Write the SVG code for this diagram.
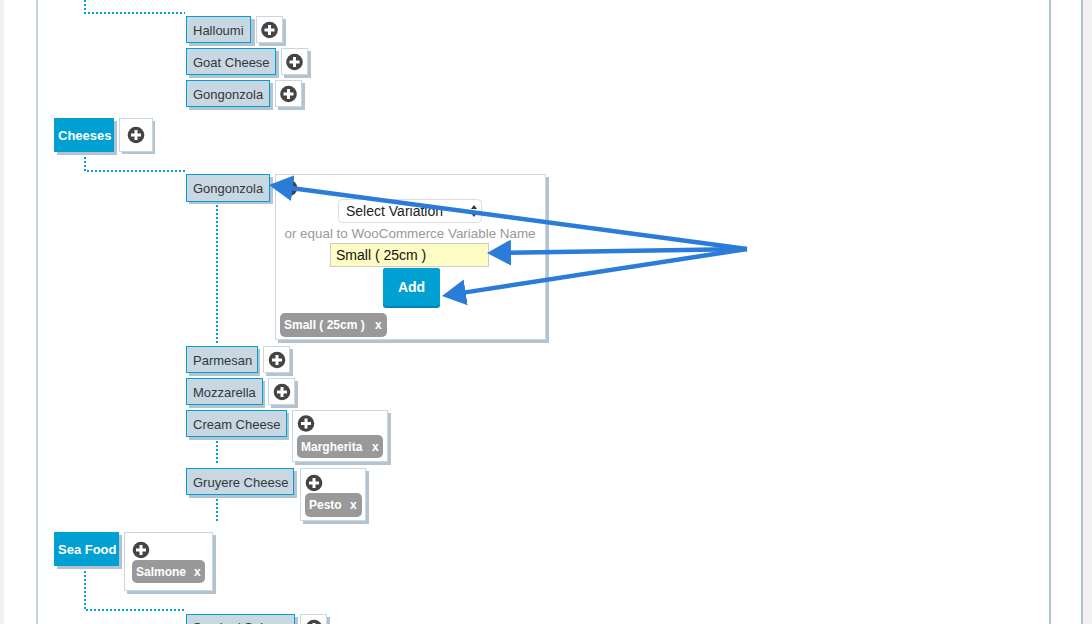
<svg xmlns="http://www.w3.org/2000/svg" width="1092" height="624" viewBox="0 0 1092 624">
<defs>
<style>
.sh{fill:#b3c3d0}
.nb{fill:#c8d7e1;stroke:#00a0d2;stroke-width:1}
.bb{fill:#00a0d2}
.btn{fill:#fff;stroke:#c8d7e1;stroke-width:1}
.nt{font-family:"Liberation Sans",Arial,sans-serif;font-size:13px;fill:#32373c}
.bt{font-family:"Liberation Sans",Arial,sans-serif;font-size:13px;font-weight:bold;fill:#fff}
.tag{fill:#999}
.tt{font-family:"Liberation Sans",Arial,sans-serif;font-size:12px;font-weight:bold;fill:#fff}
.dot{fill:none;stroke:#00a0d2;stroke-width:2;stroke-dasharray:2 2}
.arr{fill:none;stroke:#2b7bd8;stroke-width:4.5}
</style>
<g id="plus">
<circle cx="0" cy="0" r="8.3" fill="#444"/>
<rect x="-5" y="-1.5" width="10" height="3" fill="#fff"/>
<rect x="-1.5" y="-5" width="3" height="10" fill="#fff"/>
</g>
<marker id="ah" markerUnits="userSpaceOnUse" markerWidth="26" markerHeight="28" refX="2" refY="13" orient="auto">
<path d="M0,0 L24,13 L0,26 z" fill="#2b7bd8"/>
</marker>
</defs>
<rect x="0" y="0" width="1092" height="624" fill="#fff"/>
<rect x="0" y="0" width="4" height="624" fill="#f1f1f1"/>
<rect x="1083" y="0" width="9" height="624" fill="#f1f1f1"/>
<rect x="36" y="0" width="2" height="624" fill="#c3d1dc"/>
<rect x="1049" y="0" width="2" height="624" fill="#b0c3d2"/>
<rect x="1081" y="0" width="2" height="624" fill="#b0c3d2"/>

<g id="connectors">
<path class="dot" d="M85,0 V13 H185"/>
<path class="dot" d="M85,153 V171 H185"/>
<path class="dot" d="M217,205 V343"/>
<path class="dot" d="M217,441 V464"/>
<path class="dot" d="M217,499 V522"/>
<path class="dot" d="M85,567 V610 H186"/>
</g>

<g id="n-halloumi">
<rect class="sh" x="189" y="19" width="66" height="27"/>
<rect class="nb" x="186.5" y="16.5" width="64" height="26"/>
<text class="nt" x="193" y="35">Halloumi</text>
<rect class="sh" x="259" y="19" width="27" height="27"/>
<rect class="btn" x="256.5" y="16.5" width="26" height="26"/>
<use href="#plus" x="269.5" y="30"/>
</g>
<g id="n-goat">
<rect class="sh" x="189" y="51" width="90" height="27"/>
<rect class="nb" x="186.5" y="48.5" width="89" height="26"/>
<text class="nt" x="193" y="67">Goat Cheese</text>
<rect class="sh" x="284" y="51" width="27" height="27"/>
<rect class="btn" x="281.5" y="48.5" width="26" height="26"/>
<use href="#plus" x="294.5" y="62"/>
</g>
<g id="n-gong1">
<rect class="sh" x="189" y="83" width="84" height="27"/>
<rect class="nb" x="186.5" y="80.5" width="83" height="26"/>
<text class="nt" x="193" y="99">Gongonzola</text>
<rect class="sh" x="278" y="83" width="27" height="27"/>
<rect class="btn" x="275.5" y="80.5" width="26" height="26"/>
<use href="#plus" x="288.5" y="94"/>
</g>
<g id="n-cheeses">
<rect class="sh" x="57" y="121" width="60" height="34"/>
<rect class="bb" x="54" y="118" width="60" height="34"/>
<text class="bt" x="58" y="140">Cheeses</text>
<rect class="sh" x="122" y="121" width="33" height="33"/>
<rect class="btn" x="119.5" y="118.5" width="33" height="33"/>
<use href="#plus" x="136" y="135"/>
</g>
<g id="n-gong2">
<rect class="sh" x="189" y="177" width="84" height="27"/>
<rect class="nb" x="186.5" y="174.5" width="83" height="27"/>
<text class="nt" x="193" y="193">Gongonzola</text>
</g>
<g id="panel-gong2">
<rect class="sh" x="278" y="177" width="271" height="166"/>
<rect class="btn" x="275.5" y="174.5" width="270" height="165"/>
<use href="#plus" x="289" y="188"/>
<rect x="338.5" y="199.5" width="143" height="23" rx="4" fill="#fff" stroke="#ddd"/>
<text class="nt" x="346" y="216" style="font-size:14px;fill:#222">Select Variation</text>
<path d="M471,209 l3,-4 l3,4 z M471,213 l3,4 l3,-4 z" fill="#333"/>
<text x="410" y="238" text-anchor="middle" style="font-family:'Liberation Sans',Arial,sans-serif;font-size:13.4px;fill:#999">or equal to WooCommerce Variable Name</text>
<rect x="330.5" y="243.5" width="158" height="23" fill="#fdfcc4" stroke="#ccc"/>
<text x="336" y="260" style="font-family:'Liberation Sans',Arial,sans-serif;font-size:14px;fill:#111">Small ( 25cm )</text>
<rect x="383" y="268" width="57" height="40" rx="3" fill="#0085ba"/>
<rect x="383" y="268" width="57" height="38" rx="3" fill="#00a0d2"/>
<text x="411.5" y="292" text-anchor="middle" style="font-family:'Liberation Sans',Arial,sans-serif;font-size:14px;font-weight:bold;fill:#fff">Add</text>
<rect class="tag" x="280" y="313" width="107" height="24" rx="5"/>
<text class="tt" x="284" y="329">Small ( 25cm )</text>
<text class="tt" x="375" y="329">x</text>
</g>
<g id="n-parmesan">
<rect class="sh" x="189" y="349" width="71" height="27"/>
<rect class="nb" x="186.5" y="346.5" width="71" height="26"/>
<text class="nt" x="193" y="365">Parmesan</text>
<rect class="sh" x="266" y="349" width="27" height="27"/>
<rect class="btn" x="263.5" y="346.5" width="26" height="26"/>
<use href="#plus" x="277" y="360"/>
</g>
<g id="n-mozzarella">
<rect class="sh" x="189" y="381" width="76" height="27"/>
<rect class="nb" x="186.5" y="378.5" width="76" height="26"/>
<text class="nt" x="193" y="397">Mozzarella</text>
<rect class="sh" x="271" y="381" width="27" height="27"/>
<rect class="btn" x="268.5" y="378.5" width="26" height="26"/>
<use href="#plus" x="282" y="392"/>
</g>
<g id="n-cream">
<rect class="sh" x="189" y="413" width="100" height="27"/>
<rect class="nb" x="186.5" y="410.5" width="100" height="26"/>
<text class="nt" x="193" y="429">Cream Cheese</text>
<rect class="sh" x="295" y="413" width="96" height="52"/>
<rect class="btn" x="292.5" y="410.5" width="95" height="51"/>
<use href="#plus" x="306" y="423.5"/>
<rect class="tag" x="297" y="435" width="86" height="23" rx="5"/>
<text class="tt" x="301" y="451">Margherita</text>
<text class="tt" x="372" y="451">x</text>
</g>
<g id="n-gruyere">
<rect class="sh" x="189" y="471" width="108" height="27"/>
<rect class="nb" x="186.5" y="468.5" width="107" height="26"/>
<text class="nt" x="193" y="487">Gruyere Cheese</text>
<rect class="sh" x="303" y="471" width="66" height="53"/>
<rect class="btn" x="300.5" y="468.5" width="65" height="52"/>
<use href="#plus" x="314" y="483"/>
<rect class="tag" x="305" y="493" width="57" height="24" rx="5"/>
<text class="tt" x="309" y="509">Pesto</text>
<text class="tt" x="350" y="509">x</text>
</g>
<g id="n-seafood">
<rect class="sh" x="57" y="535" width="65" height="34"/>
<rect class="bb" x="54" y="532" width="65" height="34"/>
<text class="bt" x="58" y="554">Sea Food</text>
<rect class="sh" x="127" y="535" width="89" height="59"/>
<rect class="btn" x="124.5" y="532.5" width="88" height="58"/>
<use href="#plus" x="141" y="550"/>
<rect class="tag" x="132" y="560" width="73" height="23" rx="5"/>
<text class="tt" x="136" y="576">Salmone</text>
<text class="tt" x="194" y="576">x</text>
</g>
<g id="n-smoked">
<rect class="sh" x="189" y="617" width="109" height="10"/>
<rect class="nb" x="186.5" y="614.5" width="108" height="14"/>
<text class="nt" x="193" y="632">Smoked Salmon</text>
<rect class="sh" x="303" y="617" width="27" height="10"/>
<rect class="btn" x="300.5" y="614.5" width="26" height="14"/>
<use href="#plus" x="314" y="628"/>
</g>

<g id="arrows">
<path class="arr" d="M747,249 L290.8,187.9" marker-end="url(#ah)"/>
<path class="arr" d="M747,249 L509,252.7" marker-end="url(#ah)"/>
<path class="arr" d="M747,249 L463.7,292.6" marker-end="url(#ah)"/>
</g>
</svg>
